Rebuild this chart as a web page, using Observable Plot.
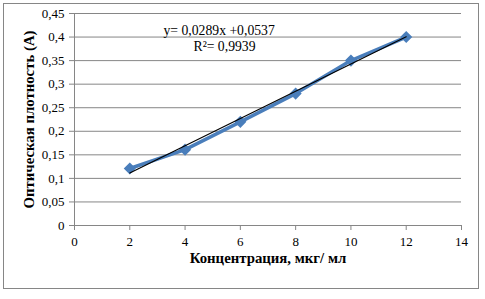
<!DOCTYPE html>
<html><head><meta charset="utf-8">
<script src="https://cdn.jsdelivr.net/npm/d3@7"></script>
<script src="https://cdn.jsdelivr.net/npm/@observablehq/plot@0.6"></script>
<style>
body{margin:0;background:#fff;}
#wrap{position:relative;width:485px;height:299px;}
#border{position:absolute;left:3px;top:3px;width:474px;height:284px;border:1px solid #868686;box-sizing:content-box;pointer-events:none;}
svg{font-family:"Liberation Serif","Times New Roman",serif;}
</style></head>
<body><div id="wrap"><div id="border"></div></div>
<script>
const concentration = [2, 4, 6, 8, 10, 12];
const density = [0.121, 0.161, 0.22, 0.28, 0.35, 0.40];
const xTicks = [0, 2, 4, 6, 8, 10, 12, 14];
const yTicks = [0, 0.05, 0.1, 0.15, 0.2, 0.25, 0.3, 0.35, 0.4, 0.45];
const slope = 0.0289, intercept = 0.0537, r2 = 0.9939;
const xTitle = "Концентрация, мкг/ мл";
const yTitle = "Оптическая плотность (A)";

const data = concentration.map((x, i) => ({x, y: density[i]}));
const xs = [concentration[0], concentration[concentration.length - 1]];
const trend = xs.map(x => ({x, y: slope * x + intercept}));
const fmt = d => String(d).replace(".", ",");
const grey = "#868686";

const plot = Plot.plot({
  width: 485, height: 299,
  marginLeft: 74, marginRight: 24, marginTop: 13, marginBottom: 74,
  style: {fontFamily: '"Liberation Serif","Times New Roman",serif', fontSize: "13px", background: "transparent", color: "#000"},
  x: {domain: [0, 14], ticks: xTicks, tickFormat: fmt, label: null},
  y: {domain: [0, 0.45], ticks: yTicks, tickFormat: fmt, label: null},
  marks: [
    Plot.gridY(yTicks, {stroke: grey, strokeOpacity: 1, strokeWidth: 1}),
    Plot.ruleX([0], {stroke: grey, strokeWidth: 1}),
    Plot.ruleY([0], {stroke: grey, strokeWidth: 1}),
    Plot.axisY({ticks: yTicks, tickFormat: fmt, tickSize: 5, tickPadding: 5, stroke: grey, fontSize: 13}),
    Plot.axisX({ticks: xTicks, tickFormat: fmt, tickSize: 5, tickPadding: 6, stroke: grey, fontSize: 13}),
    Plot.line(data, {x: "x", y: "y", stroke: "#4a7ebb", strokeWidth: 3.5}),
    Plot.dot(data, {x: "x", y: "y", symbol: "diamond2", r: 4.5, fill: "#4a7ebb", stroke: "#4a7ebb"}),
    Plot.line(trend, {x: "x", y: "y", stroke: "#000", strokeWidth: 1.2}),
    Plot.text([`y= ${fmt(slope)}x +${fmt(intercept)}`], {frameAnchor: "top-left", dx: 89, dy: 12, text: d => d, textAnchor: "start", fontSize: 13.7}),
    Plot.text([`R²= ${fmt(r2)}`], {frameAnchor: "top-left", dx: 119, dy: 28, text: d => d, textAnchor: "start", fontSize: 13.7}),
    Plot.text([xTitle], {frameAnchor: "bottom", dy: 37, text: d => d, fontWeight: "bold", fontSize: 14.8}),
    Plot.text([yTitle], {frameAnchor: "left", dx: -45, rotate: -90, textAnchor: "middle", text: d => d, fontWeight: "bold", fontSize: 14.8})
  ]
});
document.getElementById("wrap").prepend(plot);
</script></body></html>
